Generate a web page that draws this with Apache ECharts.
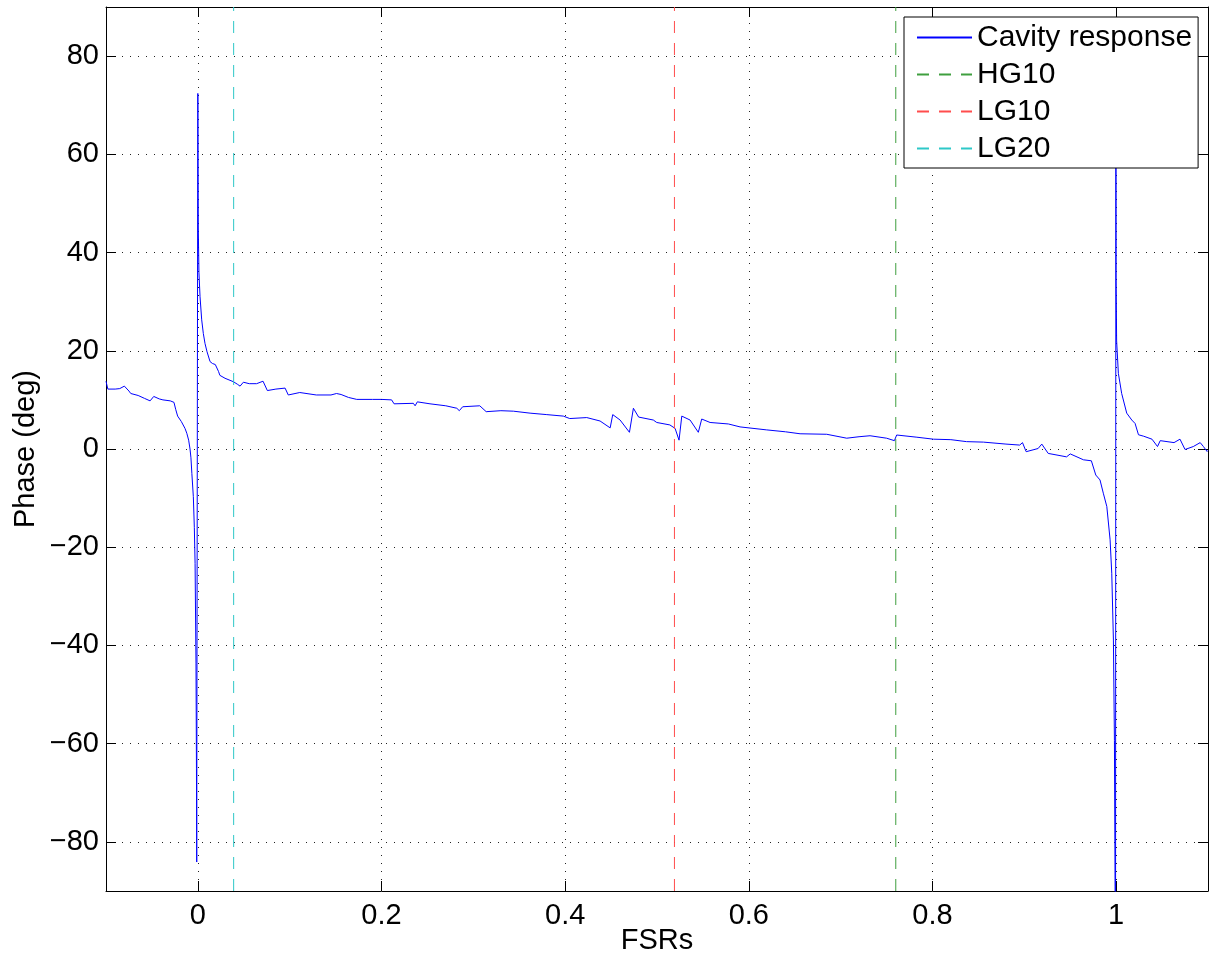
<!DOCTYPE html>
<html>
<head>
<meta charset="utf-8">
<script src="https://cdn.jsdelivr.net/npm/echarts@6/dist/echarts.min.js"></script>
<style>
html,body{margin:0;padding:0;background:#fff;}
#chart{width:1210px;height:963px;}
</style>
</head>
<body>
<div id="chart"></div>
<script>
// Cavity response phase (FSRs, deg)
const cavityX = [
-0.100,-0.099,-0.098,-0.090,-0.085,-0.080,-0.078,-0.075,-0.073,-0.065,-0.058,-0.052,-0.048,-0.042,-0.038,-0.030,-0.026,-0.024,-0.022,-0.018,-0.014,-0.012,-0.010,-0.0085,-0.0075,-0.0065,-0.0049,-0.0038,-0.0030,-0.0020,-0.0015,-0.0012,-0.0009,-0.0005,
0.0000,0.0005,0.0012,0.0024,0.0042,0.0060,0.0078,0.0100,0.0133,0.0160,0.0190,0.0206,0.0225,0.0240,0.0296,0.0387,0.0430,0.0460,0.0496,0.0560,0.0640,0.0710,0.0757,0.0850,0.0950,0.0985,
0.1110,0.1290,0.1450,0.1510,0.1560,0.1640,0.1730,0.1900,0.2000,0.2110,0.2137,0.2347,0.2366,0.2390,0.2528,0.2700,0.2820,0.2847,0.2884,0.3070,0.3140,0.3300,0.3436,0.3618,0.3800,0.3980,
0.4050,0.4235,0.4380,0.4490,0.4518,0.4598,0.4700,0.4743,0.4800,0.4960,0.4997,0.5140,0.5197,0.5240,0.5270,0.5360,0.5450,0.5487,0.5578,0.5777,0.5904,0.6190,0.6400,0.6558,0.6848,
0.7066,0.7200,0.7320,0.7500,0.7585,0.7610,0.7830,0.8010,0.8200,0.8370,0.8555,0.8800,0.8950,0.8980,0.9020,0.9150,0.9190,0.9260,0.9460,0.9500,0.9644,0.9730,0.9778,0.9824,0.9860,
0.9898,0.9934,0.9952,0.9970,0.9981,0.9988,0.9993,0.9997,0.9999,1.0005,1.0024,1.0060,1.0115,1.0170,1.0206,1.0243,1.0300,1.0390,1.0450,1.0480,1.0630,1.0695,1.0750,1.0840,1.0915,1.0950,1.0990,1.1000
];
const cavityY = [
13.8,13.5,12.2,12.2,12.3,12.8,13.0,11.8,11.3,10.9,10.3,9.8,10.7,10.2,10.0,9.8,9.5,8.0,6.7,5.6,4.2,3.2,1.8,0.0,-1.8,-5.0,-9.7,-16.0,-23.3,-43.6,-65.0,-84.1,-40.0,10.0,
72.4,45.0,36.0,31.0,26.3,23.5,21.5,19.8,17.8,17.4,17.2,17.0,15.8,15.0,14.4,13.7,13.2,12.8,13.6,13.3,13.3,13.8,11.9,12.2,12.4,11.0,
11.5,11.0,11.0,11.3,11.1,10.5,10.1,10.1,10.1,10.0,9.2,9.3,8.8,9.6,9.2,8.8,8.3,7.8,8.6,8.8,7.6,7.8,7.7,7.3,7.0,6.7,
6.2,6.4,5.7,4.3,7.0,5.9,3.4,8.3,6.5,5.9,5.4,4.9,4.2,1.8,6.7,5.9,3.4,6.1,5.4,5.1,4.5,3.9,3.5,3.1,3.0,
2.2,2.5,2.7,2.2,1.7,2.85,2.4,2.0,1.9,1.5,1.4,1.0,0.8,1.3,-0.55,0.1,1.0,-0.9,-1.6,-1.0,-2.2,-2.4,-5.3,-6.3,-9.0,
-11.7,-18.5,-25.3,-38.9,-59.3,-89.0,-110.0,70.0,35.0,22.0,15.4,11.3,7.3,5.9,5.2,2.9,2.6,2.0,0.5,1.7,1.3,2.0,-0.1,0.5,1.3,0.5,-0.5,-0.3
];
// Mode positions (FSRs)
const modeNames = ['HG10', 'LG10', 'LG20'];
const modePositions = [0.760, 0.519, 0.039];
const modeColors = ['#3f9f3f', '#ff4d4d', '#2ec8c8'];
// Axis ranges
const xRange = [-0.1, 1.1];
const yRange = [-90, 90];

const FONT = "'Liberation Sans', Arial, Helvetica, sans-serif";
const FS = 29;
const chart = echarts.init(document.getElementById('chart'), null, {renderer: 'canvas'});

const gridDot = {show: true, lineStyle: {color: '#222', width: 1, type: [1, 7]}};
const blackLine = {show: true, onZero: false, lineStyle: {color: '#000', width: 1}};
const tickIn = {show: true, inside: true, length: 10, lineStyle: {color: '#000', width: 1}};

const series = [{
  name: 'Cavity response',
  type: 'line',
  data: cavityX.map((x, i) => [x, cavityY[i]]),
  symbol: 'none',
  lineStyle: {color: '#0000ff', width: 1},
  itemStyle: {color: '#0000ff'},
  clip: true,
  z: 2
}];
modeNames.forEach((n, i) => {
  series.push({
    name: n,
    type: 'line',
    data: [[modePositions[i], yRange[0]], [modePositions[i], yRange[1]]],
    symbol: 'none',
    lineStyle: {color: modeColors[i], width: 1, type: [12, 10]},
    itemStyle: {color: modeColors[i]},
    z: 3
  });
});

const minusFmt = v => (Math.round(v * 1000) / 1000).toString().replace('-', '\u2212');

chart.setOption({
  animation: false,
  backgroundColor: '#fff',
  textStyle: {fontFamily: FONT},
  grid: {left: 106, right: 2, top: 7, bottom: 72, containLabel: false, outerBoundsMode: 'none'},
  legend: {
    orient: 'vertical',
    left: 904, top: 17,
    padding: [5, 6, 4, 12],
    itemWidth: 55, itemHeight: 14, itemGap: 6,
    backgroundColor: '#fff',
    borderColor: '#000', borderWidth: 1,
    itemStyle: {opacity: 0, borderWidth: 0},
    textStyle: {fontSize: 30, color: '#000', fontFamily: FONT, lineHeight: 31},
    data: ['Cavity response', 'HG10', 'LG10', 'LG20'],
    z: 10
  },
  xAxis: [{
    type: 'value', position: 'bottom',
    min: xRange[0], max: xRange[1], splitNumber: 6,
    axisLine: blackLine, axisTick: tickIn, splitLine: gridDot,
    axisLabel: {fontSize: FS, color: '#000', margin: 10, fontFamily: FONT,
      showMinLabel: false, showMaxLabel: false, formatter: minusFmt},
    name: 'FSRs', nameLocation: 'middle', nameGap: 35, nameMoveOverlap: false,
    nameTextStyle: {fontSize: FS, color: '#000', fontFamily: FONT}
  }, {
    type: 'value', position: 'top',
    min: xRange[0], max: xRange[1], splitNumber: 6,
    axisLine: blackLine, axisTick: tickIn, splitLine: {show: false},
    axisLabel: {show: false}
  }],
  yAxis: [{
    type: 'value', position: 'left',
    min: yRange[0], max: yRange[1], splitNumber: 9,
    axisLine: blackLine, axisTick: tickIn, splitLine: gridDot,
    axisLabel: {fontSize: FS, color: '#000', margin: 7, fontFamily: FONT,
      showMinLabel: false, showMaxLabel: false, formatter: minusFmt},
    name: 'Phase (deg)', nameLocation: 'middle', nameGap: 66, nameMoveOverlap: false,
    nameTextStyle: {fontSize: FS, color: '#000', fontFamily: FONT}
  }, {
    type: 'value', position: 'right',
    min: yRange[0], max: yRange[1], splitNumber: 9,
    axisLine: blackLine, axisTick: tickIn, splitLine: {show: false},
    axisLabel: {show: false}
  }],
  series: series
});
</script>
</body>
</html>
